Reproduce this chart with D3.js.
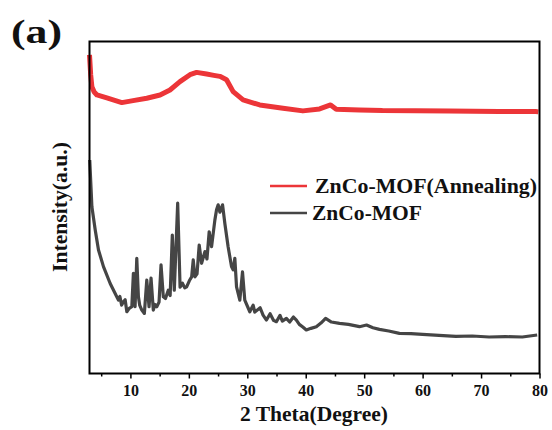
<!DOCTYPE html>
<html>
<head>
<meta charset="utf-8">
<script src="https://cdn.jsdelivr.net/npm/d3@7"></script>
<style>
body { margin: 0; background: #fff; }
text { font-family: "Liberation Serif", "Times New Roman", serif; font-weight: bold; }
</style>
</head>
<body>
<svg id="chart"></svg>
<script>
// 2 theta (degree) and intensity (a.u.)
var mofTheta = [3.04, 3.41, 3.98, 4.54, 5.39, 6.54, 7.39, 7.95, 8.2, 8.5, 8.81, 9.1, 9.39, 9.8, 10.24, 10.51, 10.8, 11.09, 11.37,
  11.6, 11.95, 12.39, 12.8, 13.19, 13.53, 13.92, 14.2, 14.51, 14.9, 15.24, 15.63, 16.0, 16.48, 16.8, 17.17, 17.51, 18.09, 18.5,
  18.9, 19.3, 19.62, 20.1, 20.48, 20.75, 21.04, 21.4, 21.77, 22.18, 22.75, 23.1, 23.48, 23.89, 24.45, 24.74, 25.02, 25.31, 25.77,
  26.16, 26.72, 27.3, 27.58, 27.87, 28.16, 28.72, 29.18, 29.57, 30.43, 31.0, 31.28, 32.2, 32.7, 33.28, 33.9, 34.5, 34.98, 35.6,
  36.0, 36.69, 37.25, 37.9, 38.4, 38.9, 39.5, 40.1, 40.9, 41.81, 42.6, 43.4, 44.4, 45.78, 47.3, 49.2, 50.4, 51.5, 52.61, 54.2,
  56.03, 58.0, 60.0, 62.8, 65.7, 68.5, 71.38, 74.2, 77.06, 79.6];
var mofIntensity = [643, 502, 432, 372, 322, 271, 241, 221, 232, 206, 216, 222, 186, 196, 201, 302, 201, 347, 231,
  205, 191, 181, 281, 201, 287, 191, 208, 201, 215, 327, 231, 226, 251, 235, 417, 251, 513, 260,
  272, 258, 261, 280, 291, 342, 291, 300, 387, 332, 367, 345, 427, 382, 462, 493, 508, 486, 508,
  452, 382, 322, 312, 347, 261, 221, 306, 221, 186, 206, 185, 198, 176, 161, 180, 160, 156, 175,
  158, 166, 155, 170, 161, 148, 140, 131, 136, 141, 152, 166, 155, 151, 148, 141, 146, 138, 133, 128,
  121, 120, 118, 115, 112, 113, 110, 111, 110, 116];

var annealTheta = [3.0, 3.2, 3.41, 3.8, 4.27, 5.97, 8.53, 10.46, 12.8, 15.07, 16.77, 18.48, 20.19, 21.33,
  23.04, 24.28, 25.31, 26.45, 27.58, 29.28, 32.13, 36.11, 39.52, 42.37, 44.25, 45.22, 49.2, 53.12,
  64.56, 73.1, 79.35, 79.8];
var annealIntensity = [960, 900, 864, 848, 839, 830, 816, 822, 829, 839, 854, 879, 900, 907,
  902, 898, 895, 885, 849, 824, 809, 799, 791, 797, 809, 796, 794, 792,
  791, 789, 789, 788];

var xTicks = [10, 20, 30, 40, 50, 60, 70, 80];
var xMinorTicks = [5, 15, 25, 35, 45, 55, 65, 75];
var seriesNames = ["ZnCo-MOF(Annealing)", "ZnCo-MOF"];
var seriesColors = ["#ec3538", "#454545"];

var width = 552, height = 430;
var plotLeft = 89.5, plotRight = 539.5, plotTop = 41.5, plotBottom = 373.5;

var svg = d3.select("#chart").attr("width", width).attr("height", height);

var x = d3.scaleLinear().domain([3, 80]).range([plotLeft, plotRight]);
var y = d3.scaleLinear().domain([0, 1000]).range([plotBottom, plotTop]);

var line = d3.line()
  .x(function(d) { return x(d[0]); })
  .y(function(d) { return y(d[1]); });

var mof = d3.zip(mofTheta, mofIntensity);
var anneal = d3.zip(annealTheta, annealIntensity);

svg.append("path").datum(mof)
  .attr("d", line)
  .attr("fill", "none")
  .attr("stroke", seriesColors[1])
  .attr("stroke-width", 3.2)
  .attr("stroke-linejoin", "round");

svg.append("path").datum(anneal)
  .attr("d", line)
  .attr("fill", "none")
  .attr("stroke", seriesColors[0])
  .attr("stroke-width", 5)
  .attr("stroke-linejoin", "round");

// frame
svg.append("rect")
  .attr("x", plotLeft).attr("y", plotTop)
  .attr("width", plotRight - plotLeft).attr("height", plotBottom - plotTop)
  .attr("fill", "none").attr("stroke", "#000").attr("stroke-width", 2);

// bottom axis
var xAxis = d3.axisBottom(x).tickValues(xTicks).tickSize(5).tickPadding(6);
var gx = svg.append("g").attr("transform", "translate(0," + plotBottom + ")").call(xAxis);
gx.select(".domain").remove();
gx.selectAll(".tick line").attr("stroke", "#000").attr("stroke-width", 1.5);
gx.selectAll(".tick text")
  .attr("font-family", "Liberation Serif")
  .attr("font-weight", "bold")
  .attr("font-size", 16)
  .attr("fill", "#111");

var gm = svg.append("g").attr("transform", "translate(0," + plotBottom + ")")
  .call(d3.axisBottom(x).tickValues(xMinorTicks).tickSize(3).tickFormat(""));
gm.select(".domain").remove();
gm.selectAll(".tick line").attr("stroke", "#000").attr("stroke-width", 1.5);

// titles
svg.append("text")
  .attr("x", 314).attr("y", 421)
  .attr("text-anchor", "middle")
  .attr("font-size", 21)
  .attr("textLength", 148)
  .attr("lengthAdjust", "spacingAndGlyphs")
  .attr("fill", "#111")
  .text("2 Theta(Degree)");

svg.append("text")
  .attr("transform", "translate(67,207) rotate(-90)")
  .attr("text-anchor", "middle")
  .attr("font-size", 21)
  .attr("textLength", 130)
  .attr("lengthAdjust", "spacingAndGlyphs")
  .attr("fill", "#111")
  .text("Intensity(a.u.)");

svg.append("text")
  .attr("x", 11).attr("y", 43)
  .attr("font-size", 34)
  .attr("textLength", 51)
  .attr("lengthAdjust", "spacingAndGlyphs")
  .attr("fill", "#111")
  .text("(a)");

// legend
var legendY = [186, 213];
var legendTextX = [315, 312];
var legendTextLen = [222, 110];
var legend = svg.selectAll(".legend")
  .data(seriesNames)
  .enter().append("g")
  .attr("class", "legend");

legend.append("line")
  .attr("x1", 270).attr("x2", 307)
  .attr("y1", function(d, i) { return legendY[i]; })
  .attr("y2", function(d, i) { return legendY[i]; })
  .attr("stroke", function(d, i) { return seriesColors[i]; })
  .attr("stroke-width", 2.5);

legend.append("text")
  .attr("x", function(d, i) { return legendTextX[i]; })
  .attr("y", function(d, i) { return legendY[i] + 7; })
  .attr("font-size", 21)
  .attr("textLength", function(d, i) { return legendTextLen[i]; })
  .attr("lengthAdjust", "spacingAndGlyphs")
  .attr("fill", "#111")
  .text(function(d) { return d; });
</script>
</body>
</html>
